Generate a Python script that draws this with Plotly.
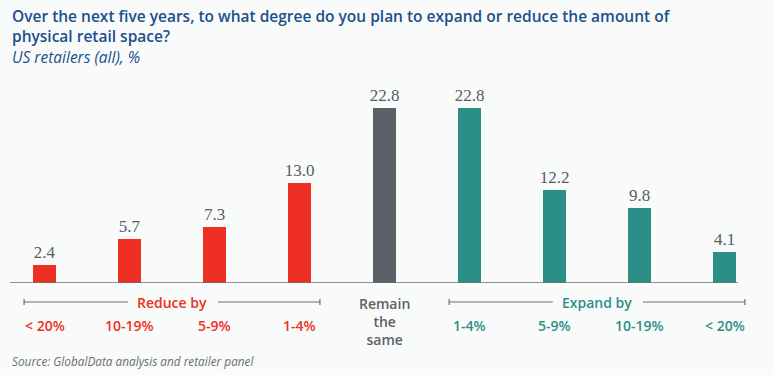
import plotly.graph_objects as go

categories = ["< 20%", "10-19%", "5-9%", "1-4%", "Remain<br>the<br>same", "1-4%", "5-9%", "10-19%", "< 20%"]
values = [2.4, 5.7, 7.3, 13.0, 22.8, 22.8, 12.2, 9.8, 4.1]
groups = ["reduce"] * 4 + ["same"] + ["expand"] * 4
group_labels = {"reduce": "Reduce by", "expand": "Expand by"}

RED = "#ee2f24"
GREY = "#5c6068"
TEAL = "#2b8f87"
BLUE = "#1d4f8d"
LINE = "#6b6e72"
BG = "#f9fbfb"
colors = {"reduce": RED, "same": GREY, "expand": TEAL}

W, H = 773, 375
PLOT_TOP, PLOT_BOT = 80, 283
x_idx = list(range(len(categories)))


def py(p):
    return (PLOT_BOT - p) / (PLOT_BOT - PLOT_TOP)


def px(p):
    return p / W


fig = go.Figure()
fig.add_trace(go.Bar(
    x=x_idx, y=values, width=0.27,
    marker=dict(color=[colors[g] for g in groups], line=dict(width=0)),
    text=[f"{v:.1f}" for v in values], textposition="outside", constraintext="none",
    textfont=dict(family="Liberation Serif, serif", size=17, color="#575b62"),
    cliponaxis=False, hoverinfo="skip",
))

annotations = []
sans = "Open Sans, Noto Sans, sans-serif"
for i, (c, g) in enumerate(zip(categories, groups)):
    if g == "same":
        annotations.append(dict(x=i, y=py(321), xref="x", yref="paper", text=c, showarrow=False,
                                font=dict(family=sans, size=14, color=GREY, weight=600),
                                align="center", yanchor="middle"))
    else:
        annotations.append(dict(x=i, y=py(325), xref="x", yref="paper", text=c, showarrow=False,
                                font=dict(family=sans, size=14, color=colors[g], weight=600),
                                yanchor="middle"))

shapes = []
shapes.append(dict(type="line", xref="x", yref="y", x0=-0.406, x1=8.16, y0=0, y1=0,
                   line=dict(color=LINE, width=1.5)))

for g in ["reduce", "expand"]:
    idx = [i for i, gg in enumerate(groups) if gg == g]
    lo, hi = min(idx), max(idx)
    mid = (lo + hi) / 2
    yb = py(302)
    annotations.append(dict(x=mid, y=yb, xref="x", yref="paper", text=group_labels[g], showarrow=False,
                            font=dict(family=sans, size=14, color=colors[g], weight=600), yanchor="middle"))
    for a, b in [(lo - 0.24, mid - 0.52), (mid + 0.54, hi + 0.24)]:
        shapes.append(dict(type="line", xref="x", yref="paper", x0=a, x1=b, y0=yb, y1=yb,
                           line=dict(color=LINE, width=1.2)))
    for e in [lo - 0.24, hi + 0.24]:
        shapes.append(dict(type="line", xref="x", yref="paper", x0=e, x1=e, y0=py(299), y1=py(305),
                           line=dict(color=LINE, width=1.2)))

annotations.append(dict(x=px(10), y=py(26), xref="paper", yref="paper",
                        text="Over the next five years, to what degree do you plan to expand or reduce the amount of<br>physical retail space?",
                        showarrow=False, xanchor="left", yanchor="middle", align="left",
                        font=dict(family=sans, size=15.5, color=BLUE, weight=600)))
annotations.append(dict(x=px(10), y=py(57), xref="paper", yref="paper",
                        text="<i>US retailers (all), %</i>", showarrow=False, xanchor="left", yanchor="middle",
                        font=dict(family=sans, size=15.5, color=BLUE)))
annotations.append(dict(x=px(10), y=py(361), xref="paper", yref="paper",
                        text="<i>Source: GlobalData analysis and retailer panel</i>", showarrow=False,
                        xanchor="left", yanchor="middle",
                        font=dict(family=sans, size=11.8, color="#6b6e72")))

fig.update_layout(
    width=W, height=H,
    margin=dict(l=0, r=0, t=PLOT_TOP, b=H - PLOT_BOT),
    paper_bgcolor=BG, plot_bgcolor=BG,
    xaxis=dict(range=[-44.5 / 85, (W - 44.5) / 85], showticklabels=False, showgrid=False,
               zeroline=False, showline=False, fixedrange=True),
    yaxis=dict(range=[0, 26.5], showticklabels=False, showgrid=False, zeroline=False,
               showline=False, fixedrange=True),
    showlegend=False, bargap=0,
    annotations=annotations, shapes=shapes,
)

post = """
document.body.style.margin = '0';
document.body.style.background = '%s';
""" % BG

fig.write_html("out.html", post_script=post, config={"displayModeBar": False})
